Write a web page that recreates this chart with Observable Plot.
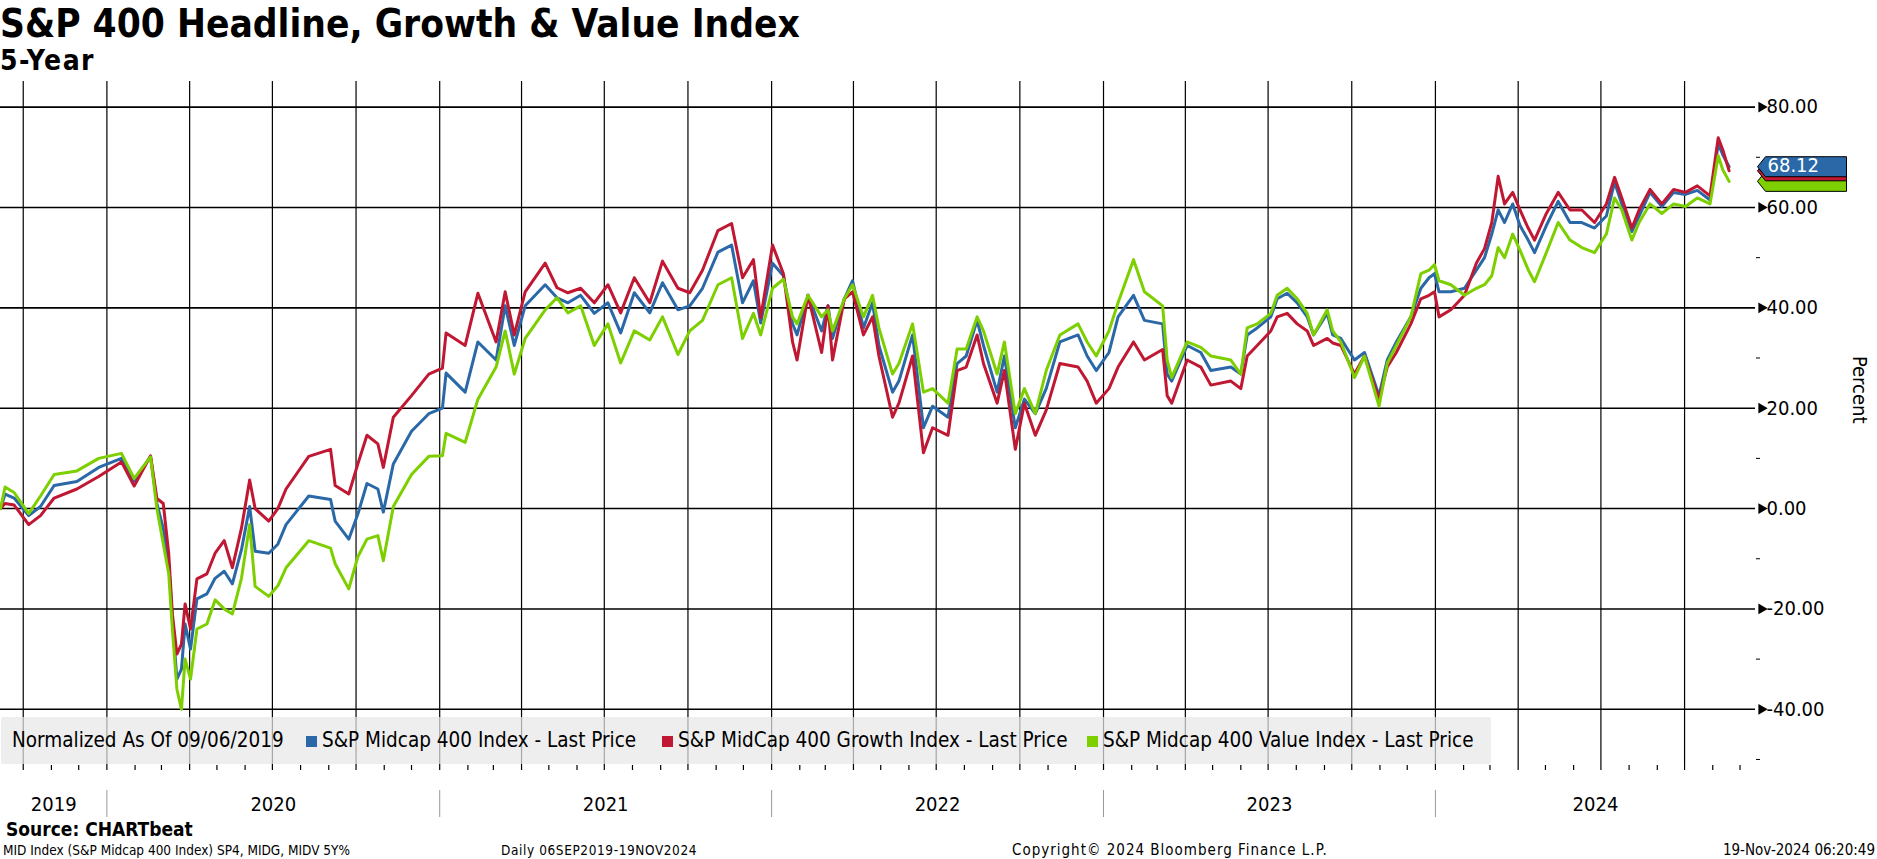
<!DOCTYPE html>
<html>
<head>
<meta charset="utf-8">
<script src="https://cdn.jsdelivr.net/npm/d3@7"></script>
<script src="https://cdn.jsdelivr.net/npm/@observablehq/plot@0.6"></script>
<style>
  body { margin: 0; background: #fff; }
  #wrap { position: relative; width: 1877px; height: 859px; overflow: hidden; font-family: "DejaVu Sans Condensed", "DejaVu Sans", sans-serif; font-stretch: condensed; color: #000; }
  #chart { position: absolute; left: 0; top: 0; }
  .abs { position: absolute; white-space: nowrap; line-height: 1; }
  #title { left: 0; top: 5px; font-size: 38.5px; font-weight: bold; }
  #subtitle { left: 0; top: 47px; font-size: 28px; font-weight: bold; letter-spacing: 1.5px; }
  #legend { left: 1px; top: 717px; width: 1490px; height: 47px; background: rgba(232,232,232,0.72); border-radius: 2px; }
  .lg { position: absolute; top: 13px; font-size: 20.5px; white-space: nowrap; line-height: 1; }
  .sw { position: absolute; top: 19px; width: 11px; height: 11px; }
  #source { left: 6px; top: 820px; font-size: 19px; font-weight: bold; }
  #foot1 { left: 3px; top: 844px; font-size: 13.5px; }
  #foot1b { left: 501px; top: 844px; font-size: 13.5px; letter-spacing: 0.6px; }
  #foot2 { left: 1012px; top: 843px; font-size: 15px; letter-spacing: 1px; }
  #foot3 { right: 2px; top: 843px; font-size: 15px; }
</style>
</head>
<body>
<div id="wrap">
  <div id="chart"></div>
  <div class="abs" id="title">S&amp;P 400 Headline, Growth &amp; Value Index</div>
  <div class="abs" id="subtitle">5-Year</div>
  <div class="abs" id="legend"></div>
  <div class="abs" id="source">Source: CHARTbeat</div>
  <div class="abs" id="foot1">MID Index (S&amp;P Midcap 400 Index) SP4, MIDG, MIDV 5Y%</div>
  <div class="abs" id="foot1b">Daily 06SEP2019-19NOV2024</div>
  <div class="abs" id="foot2">Copyright© 2024 Bloomberg Finance L.P.</div>
  <div class="abs" id="foot3">19-Nov-2024 06:20:49</div>
</div>
<script>
// ---- Data (percent change since 09/06/2019) ----
const dates = [
"2019-09-06","2019-09-11","2019-09-21","2019-10-07","2019-10-20","2019-11-04","2019-11-29","2019-12-23",
"2020-01-17","2020-01-31","2020-02-18","2020-02-25","2020-03-03","2020-03-09","2020-03-13","2020-03-18",
"2020-03-23","2020-03-27","2020-04-02","2020-04-09","2020-04-20","2020-04-29","2020-05-09","2020-05-18",
"2020-05-28","2020-06-06","2020-06-12","2020-06-27","2020-07-07","2020-07-16","2020-08-10","2020-09-03",
"2020-09-08","2020-09-23","2020-10-03","2020-10-13","2020-10-25","2020-10-31","2020-11-11","2020-12-01",
"2020-12-20","2021-01-04","2021-01-08","2021-01-29","2021-02-12","2021-03-04","2021-03-14","2021-03-24",
"2021-04-05","2021-04-27","2021-05-10","2021-05-22","2021-06-05","2021-06-20","2021-07-05","2021-07-19",
"2021-08-03","2021-08-20","2021-09-03","2021-09-20","2021-10-03","2021-10-17","2021-11-03","2021-11-18",
"2021-11-30","2021-12-12","2021-12-20","2022-01-02","2022-01-14","2022-01-24","2022-01-29","2022-02-10",
"2022-02-25","2022-03-04","2022-03-09","2022-03-22","2022-03-31","2022-04-12","2022-04-22","2022-04-29",
"2022-05-14","2022-05-21","2022-06-05","2022-06-17","2022-06-27","2022-07-14","2022-07-24","2022-08-03",
"2022-08-15","2022-08-22","2022-09-06","2022-09-14","2022-09-26","2022-10-06","2022-10-18","2022-10-30",
"2022-11-14","2022-12-04","2022-12-14","2022-12-24","2023-01-07","2023-01-17","2023-02-03","2023-02-15",
"2023-03-07","2023-03-12","2023-03-17","2023-04-03","2023-04-18","2023-04-29","2023-05-21","2023-06-01",
"2023-06-08","2023-06-19","2023-07-04","2023-07-11","2023-07-22","2023-08-02","2023-08-13","2023-08-20",
"2023-09-04","2023-09-10","2023-09-19","2023-10-04","2023-10-15","2023-10-31","2023-11-09","2023-11-19",
"2023-12-05","2023-12-16","2023-12-25","2023-12-31","2024-01-05","2024-01-18","2024-02-02","2024-02-15",
"2024-02-24","2024-03-03","2024-03-10","2024-03-17","2024-03-26","2024-04-03","2024-04-12","2024-04-19",
"2024-05-02","2024-05-15","2024-05-28","2024-06-10","2024-06-24","2024-07-07","2024-07-16","2024-07-24",
"2024-08-04","2024-08-12","2024-08-24","2024-09-06","2024-09-19","2024-10-02","2024-10-15","2024-10-29",
"2024-11-07","2024-11-12","2024-11-19"
];
const midcap = [
0,2.9,2.1,-1.4,0.4,4.6,5.4,8.2,
10.0,5.5,10.4,1.0,-4,-11,-22,-34,
-32,-23,-28,-18,-17,-13.9,-12.5,-15,
-8.2,0.4,-8.5,-8.9,-7.1,-3.2,2.5,1.8,
-2.5,-6.1,-1.1,5.0,3.9,-0.7,8.9,15.4,
18.9,20,27,23.2,33.2,29.6,40.4,32.5,
40.4,44.6,42,41,42.5,38.9,41,35,
43,39,45,39.6,40.4,43.9,51.1,52.5,
41,45.4,37,48.9,46.4,36.8,34.6,42.5,
35.4,40.4,33.9,41.8,45.4,36,41,32.5,
23.2,25.4,34.6,16.1,20.4,18.2,28.9,30.4,
37.5,32.5,23.2,30.4,16.1,21.8,18.9,23.9,
33.2,34.6,30.4,27.5,31.1,38.2,42.5,37.5,
36.8,26.8,25.4,32.5,31.1,27.5,28.2,26.8,
34.6,36,38.2,41.8,42.9,41,38.2,34.6,
38.9,34.6,33.9,29.6,31.1,22.5,29.6,33.2,
38.2,43.9,46,46.8,43.2,43.2,43.9,47.5,
50,54.7,59.5,57,60.7,56.4,53.5,51,
56.4,61.2,57,57,55.9,58.3,65,60.7,
55.2,58.3,63,60.2,63,62.6,63.4,61.5,
72.7,70.5,68.12
];
const growth = [
0,1.0,0.7,-3.2,-1.4,2.1,3.9,6.4,
9.3,4.5,10.5,2.0,1,-9,-21,-29,
-27,-19,-24,-14,-13,-8.9,-6.4,-11.8,
-3.9,5.7,0,-2.5,0,3.9,10.4,11.8,
4.6,2.9,8.9,14.6,12.9,8.2,18.2,22.5,
26.8,28,35,32.5,42.9,33.2,43.2,34.6,
43.2,48.9,44,43,43.9,41,44.6,39,
46,41,49.3,43.9,43,47.5,55.4,56.8,
46,49.6,38,52.5,46.8,33.2,29.6,42.5,
31.1,40.4,29.6,41.8,43.2,34.6,38.2,30.4,
18.2,21,30.4,11.1,16.1,14.6,27.5,28.2,
34.6,28.9,21,27.5,11.8,21,14.6,19.6,
28.9,28.2,25.4,21,23.9,28.2,33.2,29.6,
31.7,22.5,21,29.6,28.2,24.6,25.4,23.9,
30.4,32.5,35.4,38.2,38.9,36.8,35.4,32.5,
33.9,33,32.5,26.8,30.4,21.8,28.2,31.1,
36.8,41.8,42.5,43.2,38.2,39.6,42.5,48.9,
51.8,57,66.2,60.7,63,59.5,55.9,53.5,
58.8,63,59.5,59.5,57,60.7,66,61.9,
55.9,59.5,63.6,60.7,63.6,63,64.3,62.3,
73.9,71.5,67.3
];
const valueIdx = [
0,4.3,3.2,-1.0,2.5,6.8,7.5,10.0,
11.0,6.0,10.3,0.0,-7,-13,-24,-36,
-40,-30,-34,-24,-23,-18.2,-20,-21,
-13.9,-3.2,-15.5,-17.5,-15.4,-11.8,-6.4,-7.9,
-11,-16,-9.6,-6.1,-5.4,-10.4,0.4,6.8,
10.4,10.5,15,13.2,21.8,28.2,35.4,26.8,
33.9,39.6,42,39,40.4,32.5,36.8,29,
35.4,33.6,38.2,30.7,35.4,37.5,44.6,46,
33.9,38.9,34.6,43.9,45.7,38.2,36.8,42.5,
38.2,39.6,35.4,41.8,44.6,38.2,42.5,36,
26.8,28.9,36.8,23.2,23.9,21,31.8,31.8,
38.2,35.4,26.8,33.2,18.9,23.9,18.9,27.5,
34.6,36.8,33.2,30.4,35.4,41,49.6,43.2,
40.4,29.6,26.1,33.2,32.1,30.4,29.6,26.8,
36,36.8,38.9,42.5,43.9,41.8,38.9,34.6,
39.6,35.4,33.2,26.1,30.4,20.4,28.9,32.5,
38.2,46.8,47.5,48.6,45.4,44.6,42.5,43.9,
44.6,46.4,52,50,54.7,51.5,47.6,45.2,
51,57,53.5,52,51,54.7,61.9,59.5,
53.5,57,60.7,58.8,60.7,60.2,61.9,60.7,
70.3,67.5,65.2
];

const seriesNames = [
  "S&P Midcap 400 Index - Last Price",
  "S&P MidCap 400 Growth Index - Last Price",
  "S&P Midcap 400 Value Index - Last Price"
];
const seriesColors = ["#2a68a7", "#c01733", "#7dcf00"];
const seriesValues = [midcap, growth, valueIdx];
const yTicks = [-40, -20, 0, 20, 40, 60, 80];
const yMinorTicks = [-50, -30, -10, 10, 30, 50, 70];
const xStart = "2019-09-06", xEnd = "2024-12-18";
const yMin = -51.2, yMax = 85.1;
const legendNote = "Normalized As Of 09/06/2019";

// ---- Build ----
const parse = d3.utcParse("%Y-%m-%d");
const rows = [];
seriesValues.forEach((vals, i) => vals.forEach((v, j) => rows.push({date: parse(dates[j]), value: v, series: seriesNames[i], color: seriesColors[i]})));
const x0 = parse(xStart), x1 = parse(xEnd);
const quarterTicks = d3.utcMonth.every(3).range(x0, x1);
const monthTicks = d3.utcMonth.range(x0, x1);
const yearStarts = d3.utcYear.range(d3.utcDay.offset(x0, 1), x1);
const yearMids = d3.utcYear.range(d3.utcYear.floor(x0), x1).map(y => {
  const a = Math.max(+y, +x0), b = Math.min(+d3.utcYear.offset(y, 1), +x1);
  return new Date((a + b) / 2);
});
const last = seriesValues.map((vals, i) => ({value: vals[vals.length - 1], color: seriesColors[i], showText: i === 0}));
const tagOrder = [2, 1, 0].map(i => last[i]);

const tagSymbol = {
  draw(ctx, size) {
    ctx.moveTo(0, 0);
    ctx.lineTo(8, -10);
    ctx.lineTo(89, -10);
    ctx.lineTo(89, 10);
    ctx.lineTo(8, 10);
    ctx.closePath();
  }
};

const font = '"DejaVu Sans Condensed", "DejaVu Sans", sans-serif';
const tagMarks = tagOrder.flatMap(t => [
  Plot.dot([t], {y: "value", frameAnchor: "right", dx: 2, symbol: tagSymbol, r: 10, fill: "color", stroke: "#000", strokeWidth: 1}),
  ...(t.showText ? [Plot.text([t], {y: "value", frameAnchor: "right", dx: 12, text: d => d.value.toFixed(2), fill: "#fff", textAnchor: "start", fontSize: 20, dy: -1})] : [])
]);

const chart = Plot.plot({
  width: 1877, height: 859,
  marginLeft: 0, marginRight: 122, marginTop: 81, marginBottom: 94,
  style: {fontFamily: font, fontStretch: "condensed", fontSize: "20px", color: "#000", background: "transparent", overflow: "visible"},
  x: {type: "utc", domain: [x0, x1]},
  y: {domain: [yMin, yMax]},
  marks: [
    Plot.gridX(quarterTicks, {stroke: "#000", strokeOpacity: 1, strokeWidth: 1.2}),
    Plot.gridY(yTicks, {stroke: "#000", strokeOpacity: 1, strokeWidth: 1.6}),
    Plot.line(rows, {x: "date", y: "value", z: "series", stroke: "color", strokeWidth: 3, strokeLinejoin: "round"}),
    Plot.axisX(monthTicks, {tickSize: 5, tickFormat: () => "", line: true, strokeWidth: 1.2, label: null}),
    Plot.axisX(yearMids, {tickSize: 0, tickPadding: 31, tickFormat: d => String(d.getUTCFullYear()), fontSize: 20, label: null}),
    Plot.axisX(yearStarts, {tickSize: 27, dy: 25, tickFormat: () => "", stroke: "#999", label: null}),
    Plot.axisY(yTicks, {anchor: "right", tickSize: 0, tickPadding: 11, tickFormat: d => d.toFixed(2), fontSize: 20, line: true, strokeWidth: 1.2, label: null}),
    Plot.axisY(yMinorTicks, {anchor: "right", tickSize: 4, tickFormat: () => "", label: null}),
    Plot.dot(yTicks, {y: d => d, frameAnchor: "right", dx: 6, symbol: "triangle", rotate: 90, r: 4, fill: "#000"}),
    ...tagMarks,
    Plot.text(["Percent"], {frameAnchor: "right", dx: 104, rotate: 90, fontSize: 20, text: d => d})
  ]
});
document.getElementById("chart").appendChild(chart);

// ---- Legend (HTML overlay inside plot frame) ----
const legend = document.getElementById("legend");
const note = document.createElement("div");
note.className = "lg"; note.style.left = "11px"; note.textContent = legendNote;
legend.appendChild(note);
const legendX = [305, 661, 1086];
seriesNames.forEach((name, i) => {
  const sw = document.createElement("div");
  sw.className = "sw"; sw.style.left = legendX[i] + "px"; sw.style.background = seriesColors[i];
  const tx = document.createElement("div");
  tx.className = "lg"; tx.style.left = (legendX[i] + 16) + "px"; tx.textContent = name;
  legend.appendChild(sw); legend.appendChild(tx);
});
</script>
</body>
</html>
